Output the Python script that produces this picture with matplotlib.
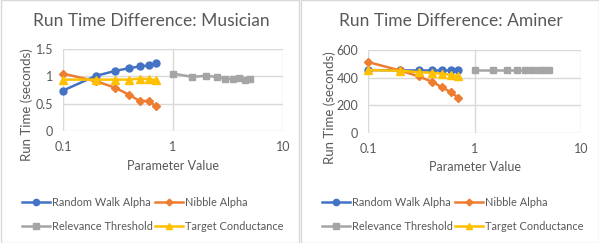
import matplotlib
matplotlib.use("Agg")
import matplotlib.pyplot as plt
from matplotlib.patches import Rectangle
from matplotlib.lines import Line2D

alpha_x = [0.1, 0.2, 0.3, 0.4, 0.5, 0.6, 0.7]
thresh_x = [1, 1.5, 2, 2.5, 3, 3.5, 4, 4.5, 5]

mus_rw = [0.74, 1.01, 1.10, 1.15, 1.18, 1.20, 1.24]
mus_nib = [1.05, 0.91, 0.79, 0.66, 0.55, 0.55, 0.45]
mus_tc = [0.94, 0.94, 0.94, 0.94, 0.96, 0.95, 0.93]
mus_rel = [1.05, 0.99, 1.01, 0.99, 0.95, 0.95, 0.97, 0.94, 0.96]

am_rw = [455, 453, 452, 452, 452, 452, 452]
am_nib = [513, 452, 409, 370, 329, 295, 256]
am_tc = [455, 450, 440, 435, 428, 421, 411]
am_rel = [455, 455, 455, 455, 455, 455, 455, 455, 455]

titles = ["Run Time Difference: Musician", "Run Time Difference: Aminer"]
yticks = [[0, 0.5, 1, 1.5], [0, 200, 400, 600]]
ytlabels = [["0", "0.5", "1", "1.5"], ["0", "200", "400", "600"]]
xticks = [0.1, 1, 10]
xtlabels = ["0.1", "1", "10"]
names = ["Random Walk Alpha", "Nibble Alpha", "Relevance Threshold", "Target Conductance"]
xlabel = "Parameter Value"
ylabel = "Run Time (seconds)"

C_BLUE = "#4472C4"
C_ORANGE = "#ED7D31"
C_GRAY = "#A5A5A5"
C_YELLOW = "#FFC000"
TXT = "#595959"
GRID = "#D9D9D9"

plt.rcParams['font.family'] = ['Lato', 'DejaVu Sans']

W, H = 599, 243
fig = plt.figure(figsize=(W / 100, H / 100), dpi=100)

def px_axes(x0, y0, x1, y1):
    return fig.add_axes([x0 / W, 1 - y1 / H, (x1 - x0) / W, (y1 - y0) / H])

def fx(x):
    return x / W

def fy(y):
    return 1 - y / H

# panel borders
for (bx0, bx1) in [(0, 299), (300, 599)]:
    fig.patches.append(Rectangle((fx(bx0 + 0.5), 0.5 / H), (bx1 - bx0 - 1) / W, (H - 1) / H,
                                 transform=fig.transFigure, fill=False, edgecolor=GRID, lw=1))

styles = [
    dict(color=C_BLUE, marker="o", ms=5),
    dict(color=C_ORANGE, marker="D", ms=3.8),
    dict(color=C_GRAY, marker="s", ms=4.8),
    dict(color=C_YELLOW, marker="^", ms=5.5),
]

panels = [
    dict(box=(63, 49, 283, 131), cx=151, data=(mus_rw, mus_nib, mus_rel, mus_tc), ylim=(0, 1.5),
         cols=(22, 155), ylab=(27, 105), xlab=(173, 166)),
    dict(box=(368, 50, 581, 133), cx=451, data=(am_rw, am_nib, am_rel, am_tc), ylim=(0, 600),
         cols=(322, 455), ylab=(330, 108), xlab=(475, 167)),
]

for i, p in enumerate(panels):
    ax = px_axes(*p["box"])
    rw, nib, rel, tc = p["data"]
    xs = [alpha_x, alpha_x, thresh_x, alpha_x]
    for xv, yv, st in zip(xs, (rw, nib, rel, tc), styles):
        ax.plot(xv, yv, lw=1.8, zorder=3, clip_on=False, **st)
    ax.set_xscale("log")
    ax.set_xlim(0.1, 10)
    ax.set_ylim(*p["ylim"])
    ax.set_xticks(xticks)
    ax.set_xticklabels(xtlabels)
    ax.minorticks_off()
    ax.set_yticks(yticks[i])
    ax.set_yticklabels(ytlabels[i])
    ax.grid(True, color=GRID, lw=1)
    ax.set_axisbelow(True)
    for s in ax.spines.values():
        s.set_visible(False)
    ax.tick_params(length=0, labelsize=9, colors=TXT, pad=7)
    fig.text(fx(p["xlab"][0]), fy(p["xlab"][1]), xlabel, ha="center", va="center",
             fontsize=9, color=TXT)
    fig.text(fx(p["ylab"][0]), fy(p["ylab"][1]), ylabel, ha="center", va="center",
             rotation=90, fontsize=9.5, color=TXT)
    fig.text(fx(p["cx"]), fy(21), titles[i], ha="center", va="center", fontsize=12.5, color=TXT)

    # legend (row-major order, two columns)
    rows = (202, 226)
    for k, (name, st) in enumerate(zip(names, styles)):
        r, c = divmod(k, 2)
        x0 = p["cols"][c]
        y = rows[r]
        fig.add_artist(Line2D([fx(x0), fx(x0 + 28)], [fy(y), fy(y)], transform=fig.transFigure,
                              color=st["color"], lw=1.8))
        fig.add_artist(Line2D([fx(x0 + 14)], [fy(y)], transform=fig.transFigure, lw=0,
                              color=st["color"], marker=st["marker"], ms=st["ms"] * 0.9))
        fig.text(fx(x0 + 30), fy(y), name, ha="left", va="center", fontsize=7.9, color=TXT)

fig.savefig("out.png", dpi=100)
